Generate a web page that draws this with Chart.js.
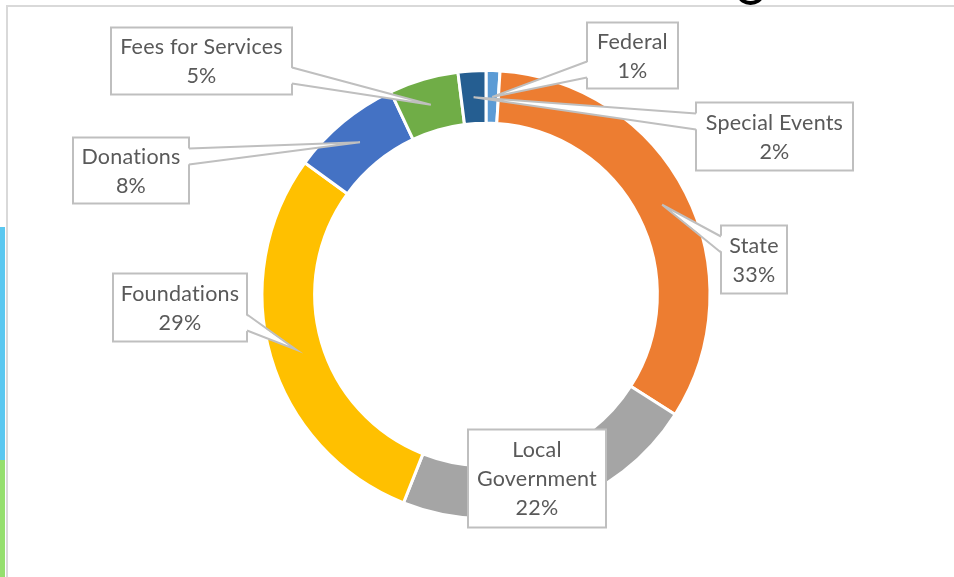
<!DOCTYPE html>
<html>
<head>
<meta charset="utf-8">
<script src="https://cdn.jsdelivr.net/npm/chart.js@4.4.1/dist/chart.umd.min.js"></script>
<style>
  html, body { margin: 0; padding: 0; background: #ffffff; }
  canvas { display: block; }
</style>
</head>
<body>
<canvas id="revenue_sources" width="954" height="577"></canvas>
<script>
// Données du graphique
const sources = ['Federal', 'State', 'Local Government', 'Foundations', 'Donations', 'Fees for Services', 'Special Events'];
const shares = [1, 33, 22, 29, 8, 5, 2];
const sliceColors = ['#5B9BD5', '#ED7D31', '#A5A5A5', '#FFC000', '#4472C4', '#70AD47', '#255E91'];

// Position des étiquettes : décalage du centre de la boîte par rapport au centre de l'anneau, puis taille
const boxOffsets = [[146.5, -239], [268, -35], [51, 184], [-306, 13], [-355, -124], [-284.5, -233.5], [288.5, -158]];
const boxSizes = [[91, 66], [66, 68], [138, 98], [134, 68], [116, 66], [181, 67], [157, 68]];

document.addEventListener("DOMContentLoaded", function () {
    const canvas = document.getElementById("revenue_sources");
    const ctx = canvas.getContext('2d');

    // Cadre de la capture (bordures grises, bandes de couleur à gauche)
    const framePlugin = {
        id: 'frame',
        beforeDraw(chart) {
            const c = chart.ctx;
            c.save();
            c.fillStyle = '#5BC8F0';
            c.fillRect(0, 227, 5, 233);
            c.fillStyle = '#95DF6E';
            c.fillRect(0, 460, 5, 117);
            c.strokeStyle = '#000000';
            c.lineWidth = 4;
            c.beginPath();
            c.ellipse(750.5, -4, 10.5, 7, 0, 0, Math.PI);
            c.stroke();
            c.strokeStyle = '#D9D9D9';
            c.lineWidth = 2;
            c.beginPath();
            c.moveTo(7, 577);
            c.lineTo(7, 6);
            c.lineTo(954, 6);
            c.stroke();
            c.restore();
        }
    };

    function wrapText(c, text, maxWidth) {
        const words = text.split(' ');
        const lines = [];
        let line = '';
        words.forEach(w => {
            const test = line ? line + ' ' + w : w;
            if (line && c.measureText(test).width > maxWidth) {
                lines.push(line);
                line = w;
            } else {
                line = test;
            }
        });
        lines.push(line);
        return lines;
    }

    // Étiquettes encadrées avec pointeur vers la part
    const calloutPlugin = {
        id: 'callouts',
        afterDatasetsDraw(chart) {
            const c = chart.ctx;
            const meta = chart.getDatasetMeta(0);
            const total = shares.reduce((a, b) => a + b, 0);
            c.save();
            c.font = '21.5px Lato';
            c.letterSpacing = '0.2px'; // évite la ligature « ti » de Lato
            meta.data.forEach((arc, i) => {
                const tip = arc.tooltipPosition();
                const [ox, oy] = boxOffsets[i];
                const [w, h] = boxSizes[i];
                const l = arc.x + ox - w / 2, t = arc.y + oy - h / 2;
                const r = l + w, b = t + h;

                c.fillStyle = '#ffffff';
                c.fillRect(l, t, w, h);
                c.strokeStyle = '#BFBFBF';
                c.lineWidth = 2;
                c.strokeRect(l, t, w, h);

                const inside = tip.x > l && tip.x < r && tip.y > t && tip.y < b;
                if (!inside) {
                    const clamp = (v, lo, hi) => Math.max(lo, Math.min(hi, v));
                    let a1, a2, e1, e2;
                    if (tip.x > r) {
                        const yc = clamp(tip.y, t + 19, b - 19);
                        a1 = [r - 2, yc - 8]; a2 = [r - 2, yc + 8]; e1 = [r, yc - 8]; e2 = [r, yc + 8];
                    } else if (tip.x < l) {
                        const yc = clamp(tip.y, t + 19, b - 19);
                        a1 = [l + 2, yc - 8]; a2 = [l + 2, yc + 8]; e1 = [l, yc - 8]; e2 = [l, yc + 8];
                    } else if (tip.y < t) {
                        const xc = clamp(tip.x, l + 19, r - 19);
                        a1 = [xc - 8, t + 2]; a2 = [xc + 8, t + 2]; e1 = [xc - 8, t]; e2 = [xc + 8, t];
                    } else {
                        const xc = clamp(tip.x, l + 19, r - 19);
                        a1 = [xc - 8, b - 2]; a2 = [xc + 8, b - 2]; e1 = [xc - 8, b]; e2 = [xc + 8, b];
                    }
                    c.fillStyle = '#ffffff';
                    c.beginPath();
                    c.moveTo(a1[0], a1[1]);
                    c.lineTo(tip.x, tip.y);
                    c.lineTo(a2[0], a2[1]);
                    c.closePath();
                    c.fill();
                    c.lineWidth = 2;
                    c.beginPath();
                    c.moveTo(e1[0], e1[1]);
                    c.lineTo(tip.x, tip.y);
                    c.lineTo(e2[0], e2[1]);
                    c.stroke();
                }

                const lines = wrapText(c, sources[i], w - 12);
                lines.push(Math.round(shares[i] / total * 100) + '%');
                c.fillStyle = '#595959';
                c.textAlign = 'center';
                c.textBaseline = 'middle';
                const cy = t + h / 2 - (lines.length - 1) * 29 / 2 + 1;
                lines.forEach((ln, k) => c.fillText(ln, l + w / 2, cy + k * 29));
            });
            c.restore();
        }
    };

    new Chart(ctx, {
        type: 'doughnut',
        data: {
            labels: sources,
            datasets: [{
                data: shares,
                backgroundColor: sliceColors,
                borderColor: '#ffffff',
                borderWidth: 3
            }]
        },
        options: {
            responsive: false,
            animation: false,
            cutout: '76.5%',
            layout: { padding: { left: 200, right: 182, top: 69, bottom: 57 } },
            plugins: {
                legend: { display: false },
                tooltip: { enabled: false }
            }
        },
        plugins: [framePlugin, calloutPlugin]
    });
});
</script>
</body>
</html>
